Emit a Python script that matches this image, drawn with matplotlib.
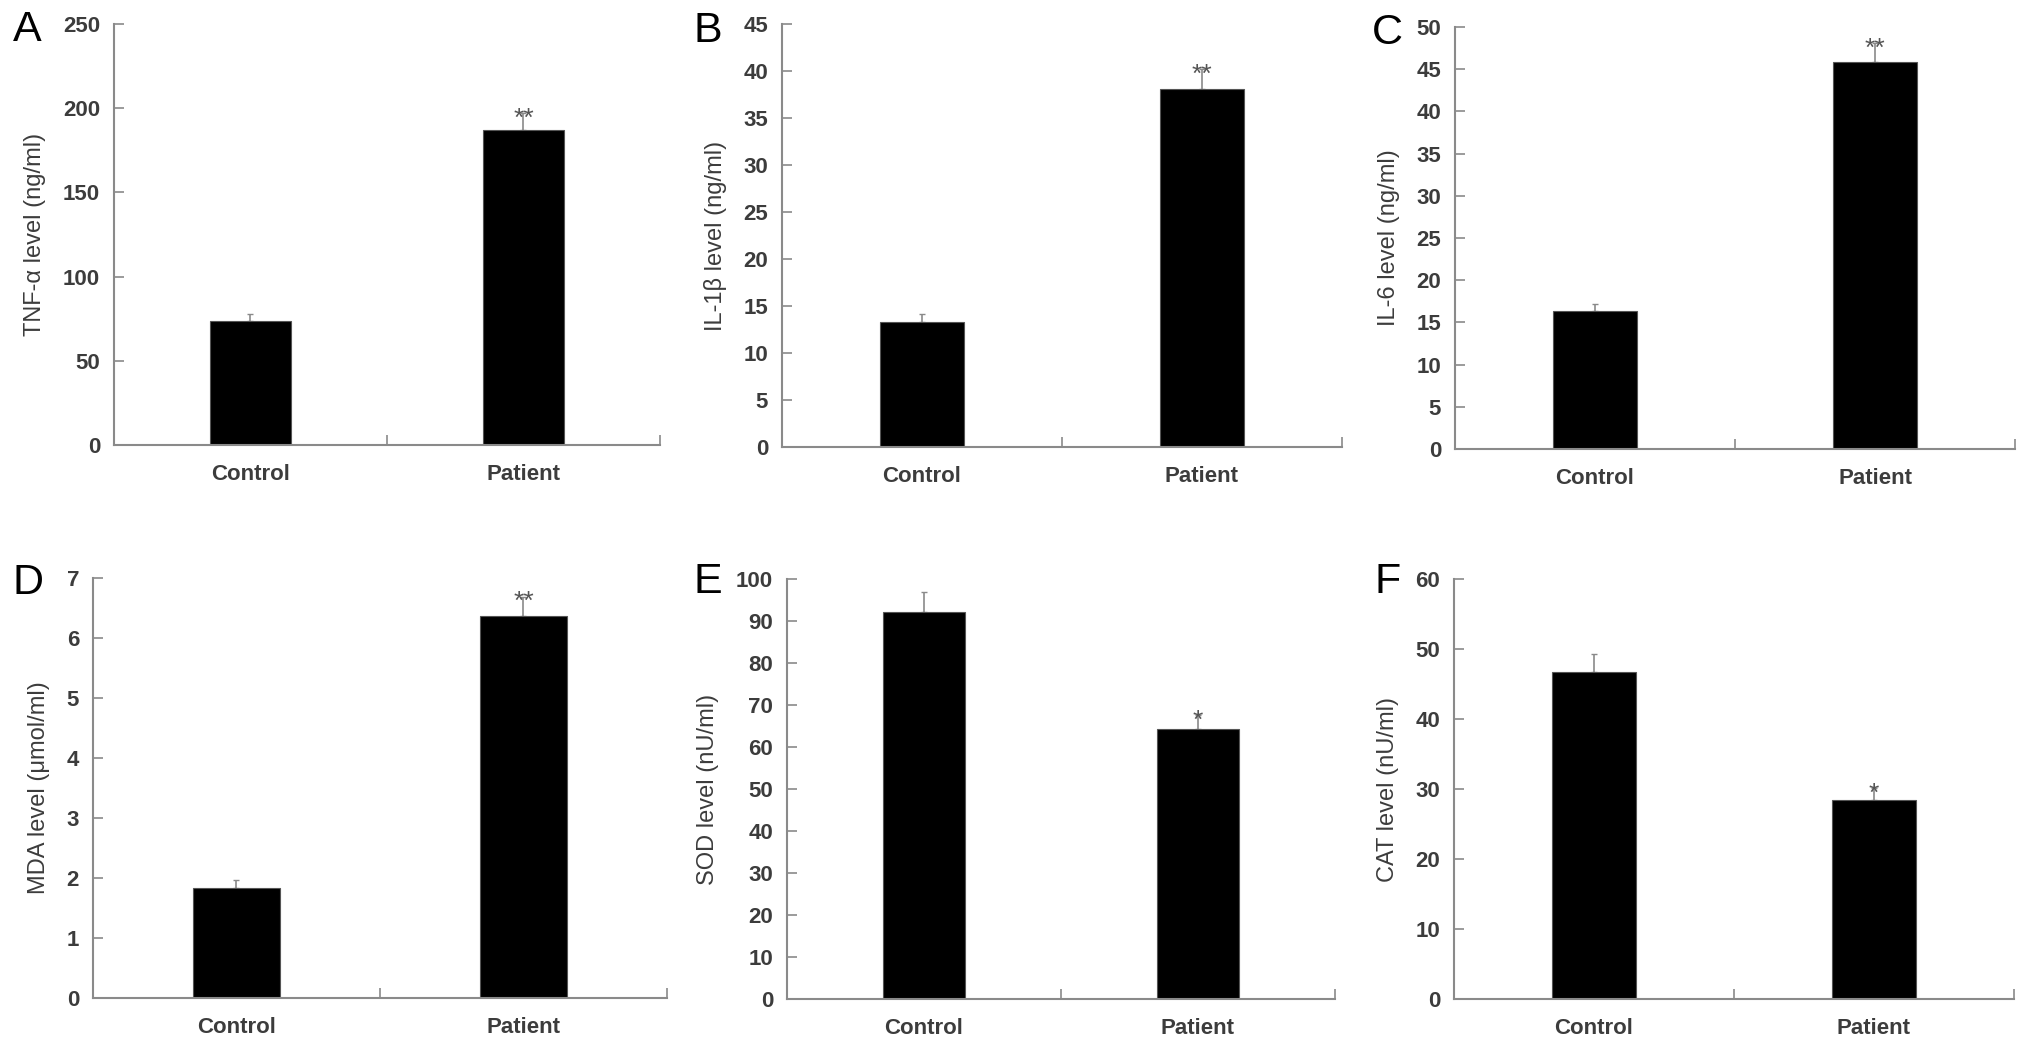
import numpy as np
import matplotlib.pyplot as plt

plt.rcParams['font.family'] = ['Liberation Sans', 'DejaVu Sans']

# -------- Data --------
groups = ["Control", "Patient"]

tnf_mean = [73.6, 187.0]
tnf_err = [4.2, 10.0]
il1b_mean = [13.3, 38.1]
il1b_err = [0.8, 2.1]
il6_mean = [16.3, 45.8]
il6_err = [0.9, 2.3]
mda_mean = [1.84, 6.37]
mda_err = [0.12, 0.32]
sod_mean = [92.1, 64.3]
sod_err = [4.8, 3.3]
cat_mean = [46.7, 28.4]
cat_err = [2.6, 1.7]

stars_A = ["", "**"]
stars_B = ["", "**"]
stars_C = ["", "**"]
stars_D = ["", "**"]
stars_E = ["", "*"]
stars_F = ["", "*"]

panels = [
    ("A", tnf_mean, tnf_err, stars_A, "TNF-α level (ng/ml)", 250, 50),
    ("B", il1b_mean, il1b_err, stars_B, "IL-1β level (ng/ml)", 45, 5),
    ("C", il6_mean, il6_err, stars_C, "IL-6 level (ng/ml)", 50, 5),
    ("D", mda_mean, mda_err, stars_D, "MDA level (μmol/ml)", 7, 1),
    ("E", sod_mean, sod_err, stars_E, "SOD level (nU/ml)", 100, 10),
    ("F", cat_mean, cat_err, stars_F, "CAT level (nU/ml)", 60, 10),
]

# axes boxes in pixels: x0, x1, ytop, ybottom, and panel letter centre
W, H = 2031, 1051
boxes = [
    (114, 660, 24, 445, 27, 30),
    (782, 1342, 24, 447, 708, 31),
    (1455, 2015, 27, 449, 1387, 33),
    (93, 667, 578, 998, 28, 583),
    (787, 1335, 579, 999, 708, 582),
    (1454, 2014, 579, 999, 1388, 582),
]

grey = "#8a8a8a"
txt = "#3c3c3c"

fig = plt.figure(figsize=(W / 100, H / 100), dpi=100)

for (letter, mean, err, stars, ylab, ymax, step), (x0, x1, yt, yb, lx, ly) in zip(panels, boxes):
    ax = fig.add_axes([x0 / W, 1 - yb / H, (x1 - x0) / W, (yb - yt) / H])
    x = np.arange(len(groups))
    ax.bar(x, mean, width=0.3, color="black", edgecolor="#555555", linewidth=0.8, zorder=2)
    ax.errorbar(x, mean, yerr=[np.zeros(len(err)), err], fmt="none",
                ecolor=grey, elinewidth=1.2, capsize=2, capthick=1, zorder=1)
    for xi, m, e, s in zip(x, mean, err, stars):
        if s:
            ax.annotate(s, (xi, m + e), xytext=(0, -9), textcoords="offset points",
                        ha="center", va="baseline", fontsize=19, color="#555555")

    ax.set_xlim(-0.5, 1.5)
    ax.set_ylim(0, ymax)
    ax.set_yticks(np.arange(0, ymax + step / 2, step))
    ax.set_xticks([-0.5, 0.5, 1.5])
    ax.set_xticklabels([])
    ax.set_xticks(x, minor=True)
    ax.set_xticklabels(groups, minor=True)

    for sp in ["top", "right"]:
        ax.spines[sp].set_visible(False)
    for sp in ["left", "bottom"]:
        ax.spines[sp].set_color(grey)
        ax.spines[sp].set_linewidth(1.5)

    ax.tick_params(axis="y", direction="in", length=7, width=1.2, color=grey,
                   labelsize=16, labelcolor=txt, pad=10)
    ax.tick_params(axis="x", which="major", direction="in", length=7, width=1.2, color=grey)
    ax.tick_params(axis="x", which="minor", length=0, labelsize=16, labelcolor=txt, pad=14)
    for lab in ax.get_yticklabels() + ax.get_xticklabels(minor=True):
        lab.set_fontweight("bold")

    ax.set_ylabel(ylab, fontsize=17, color=txt, labelpad=12)
    fig.text(lx / W, 1 - ly / H, letter, fontsize=31, color="black",
             ha="center", va="center")

fig.savefig("out.png", dpi=100)
